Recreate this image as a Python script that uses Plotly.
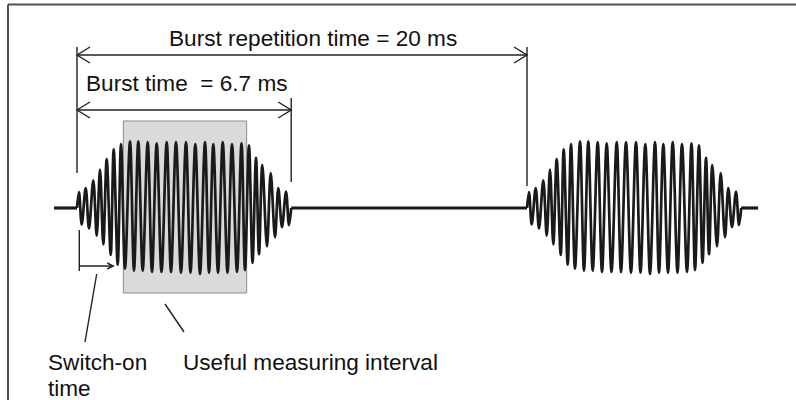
import plotly.graph_objects as go

# ---------------- data ----------------
# time axis in ms (diagram is not to scale; values as drawn), amplitude normalised
rep_time = 20.0          # burst repetition time (ms)
burst_end = 9.52         # drawn end of the burst envelope
switch_on_end = 1.61     # end of the switch-on arrow
meas_start, meas_stop = 2.06, 7.54   # useful measuring interval (shaded box)
lead_in = -1.02          # start of the drawn base line
tail_out = 0.75          # base line after 2nd burst

peak_t = [0.089, 0.387, 0.724, 1.022, 1.320, 1.631, 1.956, 2.356, 2.724, 3.142,
          3.542, 3.987, 4.400, 4.844, 5.258, 5.689, 6.058, 6.476, 6.889, 7.311,
          7.644, 7.956, 8.236, 8.609, 8.947, 9.289]
peak_a = [0.24, 0.30, 0.42, 0.58, 0.74, 0.89, 0.97, 1.01, 1.01, 1.00,
          0.98, 1.00, 1.00, 1.00, 0.97, 1.00, 0.97, 1.00, 0.97, 0.98,
          0.95, 0.76, 0.65, 0.53, 0.30, 0.25]
trough_t = [0.209, 0.533, 0.876, 1.169, 1.498, 1.809, 2.133, 2.533, 2.920, 3.333,
            3.756, 4.178, 4.622, 5.044, 5.467, 5.867, 6.267, 6.689, 7.111, 7.467,
            7.800, 8.089, 8.444, 8.800, 9.111, 9.422]
trough_a = [-0.25, -0.31, -0.42, -0.55, -0.71, -0.86, -0.92, -0.95, -0.95, -0.97,
            -0.97, -0.97, -0.98, -0.98, -1.00, -0.98, -0.98, -0.98, -0.97, -0.94,
            -0.83, -0.70, -0.58, -0.44, -0.29, -0.26]

label_rep = "Burst repetition time = 20 ms"
label_burst = "Burst time \u00a0= 6.7 ms"
label_switch = ["Switch-on", "time"]
label_useful = "Useful measuring interval"

# ---------------- geometry of the canvas ----------------
W, H = 796, 400
PX_PER_MS, X0_PX = 22.5, 77
PX_PER_UNIT, Y0_PX = 66, 208


def dx(px):
    return px / PX_PER_MS


def dy(px):
    return px / PX_PER_UNIT


def px2x(px):
    return (px - X0_PX) / PX_PER_MS


def px2y(py):
    return (Y0_PX - py) / PX_PER_UNIT


pts = sorted(zip(peak_t + trough_t, peak_a + trough_a))
burst_t = [0.0] + [p[0] for p in pts] + [burst_end]
burst_a = [0.0] + [p[1] for p in pts] + [0.0]

INK = "#1a1a1a"
fig = go.Figure()

# base lines
for xs in ([lead_in, 0.0], [burst_end, rep_time], [rep_time + burst_end, rep_time + burst_end + tail_out]):
    fig.add_trace(go.Scatter(x=xs, y=[0, 0], mode="lines",
                             line=dict(color=INK, width=3.2), hoverinfo="skip"))

# bursts
for k in range(2):
    fig.add_trace(go.Scatter(x=[t + k * rep_time for t in burst_t], y=burst_a, mode="lines",
                             line=dict(color=INK, width=2.7, shape="spline", smoothing=1.0),
                             hoverinfo="skip"))

thin = dict(color="#222222", width=1.4)
shapes = []
# useful measuring interval box
shapes.append(dict(type="rect", xref="x", yref="y", x0=meas_start, x1=meas_stop,
                   y0=px2y(293), y1=px2y(121), fillcolor="#dadada",
                   line=dict(color="#8c8c8c", width=1), layer="below"))

# vertical extension lines
shapes.append(dict(type="line", xref="x", yref="y", x0=0, x1=0, y0=px2y(47), y1=px2y(173), line=thin))
shapes.append(dict(type="line", xref="x", yref="y", x0=rep_time, x1=rep_time, y0=px2y(47), y1=px2y(186), line=thin))
shapes.append(dict(type="line", xref="x", yref="y", x0=burst_end, x1=burst_end, y0=px2y(98), y1=px2y(182), line=thin))

# dimension lines
y_rep, y_burst = px2y(55), px2y(110)
shapes.append(dict(type="line", xref="x", yref="y", x0=0, x1=rep_time, y0=y_rep, y1=y_rep, line=thin))
shapes.append(dict(type="line", xref="x", yref="y", x0=0, x1=burst_end, y0=y_burst, y1=y_burst, line=thin))


def vhead(xt, yt, direction, lx=13, ly=8):
    ax, ay = direction * dx(lx), dy(ly)
    return dict(type="path", xref="x", yref="y",
                path=f"M {xt + ax},{yt + ay} L {xt},{yt} L {xt + ax},{yt - ay}", line=thin)


shapes += [vhead(0, y_rep, 1), vhead(rep_time, y_rep, -1),
           vhead(0, y_burst, 1), vhead(burst_end, y_burst, -1)]

# switch-on arrow
x_sw = px2x(79.3)
y_sw = px2y(266)
shapes.append(dict(type="line", xref="x", yref="y", x0=x_sw, x1=x_sw, y0=px2y(230), y1=px2y(271), line=thin))
shapes.append(dict(type="line", xref="x", yref="y", x0=x_sw, x1=switch_on_end, y0=y_sw, y1=y_sw, line=thin))
shapes.append(vhead(switch_on_end, y_sw, -1, lx=6, ly=3))

# leader lines
shapes.append(dict(type="line", xref="x", yref="y", x0=px2x(96.7), y0=px2y(274), x1=px2x(85), y1=px2y(342), line=thin))
shapes.append(dict(type="line", xref="x", yref="y", x0=px2x(165), y0=px2y(304), x1=px2x(184), y1=px2y(332), line=thin))

# frame
frame = dict(color="#505050", width=2)
shapes.append(dict(type="line", xref="paper", yref="paper", x0=8 / W, x1=1, y0=1 - 4.5 / H, y1=1 - 4.5 / H, line=frame))
shapes.append(dict(type="line", xref="paper", yref="paper", x0=8 / W, x1=8 / W, y0=1 - 4.5 / H, y1=0, line=frame))

font = dict(family="Liberation Sans, Arial, sans-serif", size=22.6, color="#111111")


def label(text, px, py, anchor="left"):
    return dict(text=text, xref="x", yref="y", x=px2x(px), y=px2y(py), showarrow=False,
                xanchor=anchor, yanchor="middle", font=font)


annotations = [
    label(label_rep, 167, 38),
    label(label_burst, 84, 83),
    label(label_switch[0], 46, 362),
    label(label_switch[1], 46, 388),
    label(label_useful, 181, 362),
]

fig.update_layout(
    width=W, height=H, margin=dict(l=0, r=0, t=0, b=0),
    paper_bgcolor="white", plot_bgcolor="white", showlegend=False,
    xaxis=dict(range=[px2x(0), px2x(W)], visible=False, fixedrange=True),
    yaxis=dict(range=[px2y(H), px2y(0)], visible=False, fixedrange=True),
    shapes=shapes, annotations=annotations,
)

fig.write_html("out.html", config={"displayModeBar": False},
               post_script="document.body.style.margin='0';document.body.style.overflow='hidden';")
